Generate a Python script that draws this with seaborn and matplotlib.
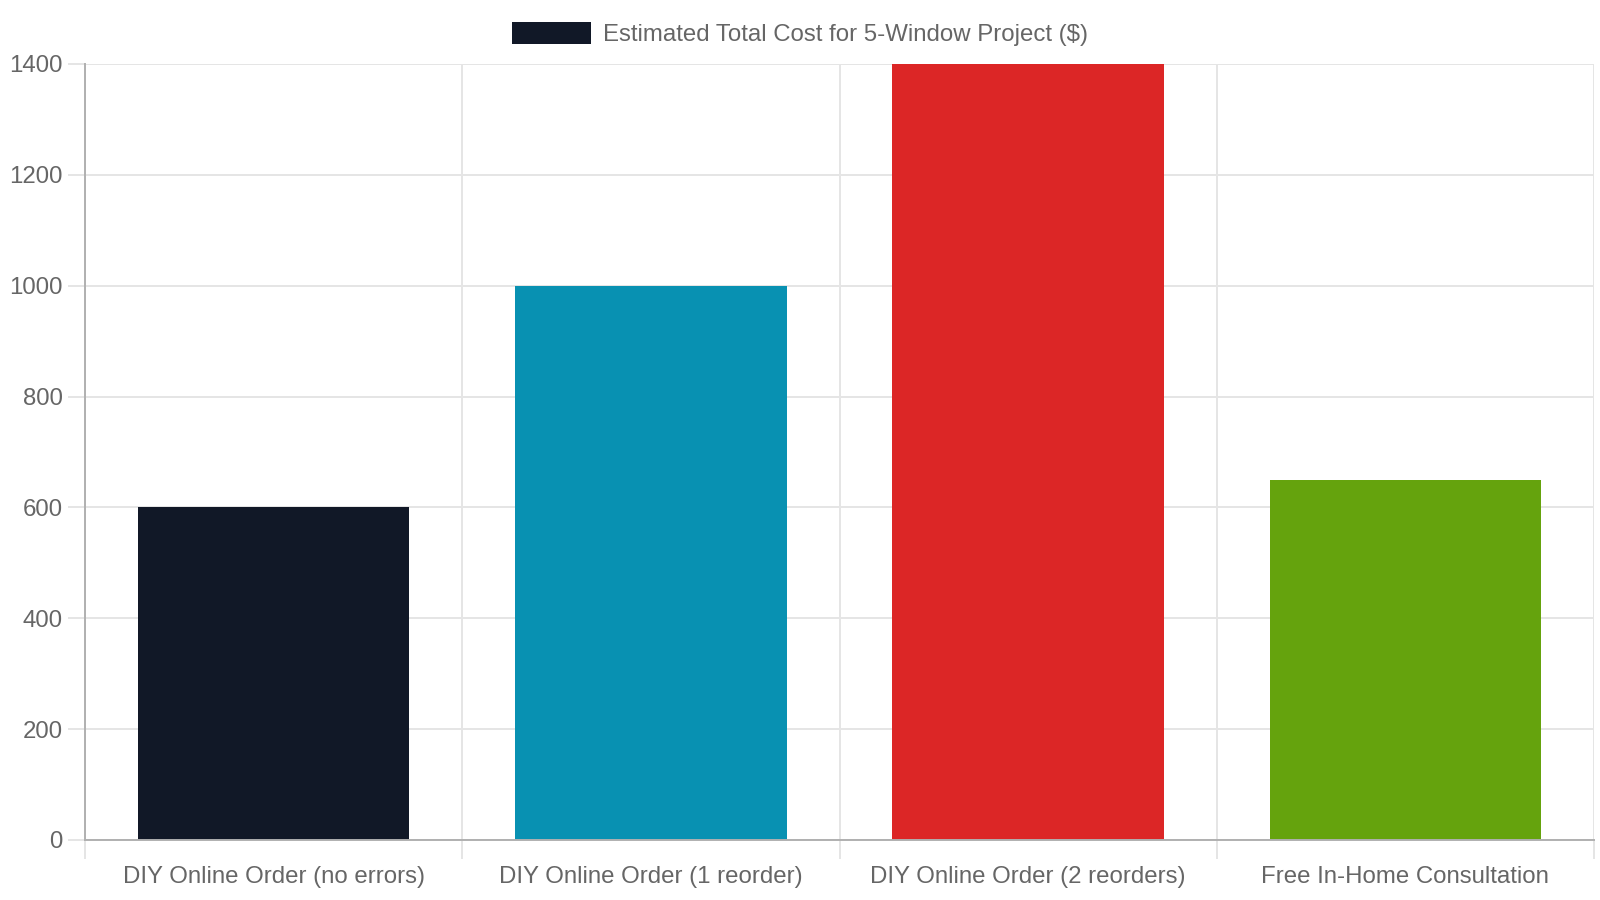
import pandas as pd
import matplotlib
import matplotlib.pyplot as plt
import seaborn as sns
from matplotlib.patches import Patch

matplotlib.use('Agg')

# Chart values
categories = [
    'DIY Online Order (no errors)',
    'DIY Online Order (1 reorder)',
    'DIY Online Order (2 reorders)',
    'Free In-Home Consultation',
]
costs = [600, 1000, 1400, 650]
bar_colors = ['#111827', '#0891b2', '#dc2626', '#65a30d']
series_label = 'Estimated Total Cost for 5-Window Project ($)'
y_ticks = [0, 200, 400, 600, 800, 1000, 1200, 1400]

df = pd.DataFrame({'Option': categories, 'Cost': costs})

sns.set_style('white')
plt.rcParams['font.family'] = ['Liberation Sans', 'DejaVu Sans']

text_color = '#666666'
grid_color = '#e5e5e5'
axis_color = '#b0b0b0'
font_size = 17.3

fig = plt.figure(figsize=(16, 9), dpi=100)
ax = fig.add_axes([85 / 1600, 60 / 900, 1509 / 1600, 776 / 900])

sns.barplot(
    data=df,
    x='Option',
    y='Cost',
    hue='Option',
    palette=bar_colors,
    legend=False,
    width=0.72,
    saturation=1,
    linewidth=0,
    ax=ax,
)

ax.set_xlim(-0.5, len(categories) - 0.5)
ax.set_ylim(0, 1400)
ax.set_yticks(y_ticks)
ax.set_xlabel('')
ax.set_ylabel('')

# grid lines between categories (chart.js offset grid)
ax.set_xticks([i - 0.5 for i in range(len(categories) + 1)], minor=True)
ax.grid(which='minor', axis='x', color=grid_color, linewidth=1.4)
ax.grid(which='major', axis='y', color=grid_color, linewidth=1.4)
ax.set_axisbelow(True)

ax.tick_params(axis='x', which='major', bottom=False, length=0, pad=18.5,
               labelsize=font_size, labelcolor=text_color)
ax.tick_params(axis='x', which='minor', bottom=True, length=14, width=1.4,
               color=grid_color)
ax.tick_params(axis='y', which='major', left=True, length=12, width=1.4,
               color=grid_color, pad=4, labelsize=font_size,
               labelcolor=text_color)

for side in ['top', 'right']:
    ax.spines[side].set_visible(False)
for side in ['left', 'bottom']:
    ax.spines[side].set_color(axis_color)
    ax.spines[side].set_linewidth(1.4)

fig.legend(
    handles=[Patch(facecolor=bar_colors[0], edgecolor='none', label=series_label)],
    loc='center',
    bbox_to_anchor=(0.5, 1 - 34 / 900),
    frameon=False,
    fontsize=font_size,
    labelcolor=text_color,
    handlelength=3.3,
    handleheight=1.05,
    handletextpad=0.5,
)

fig.savefig('out.png', dpi=100)
print("Chart saved as 'out.png'")
